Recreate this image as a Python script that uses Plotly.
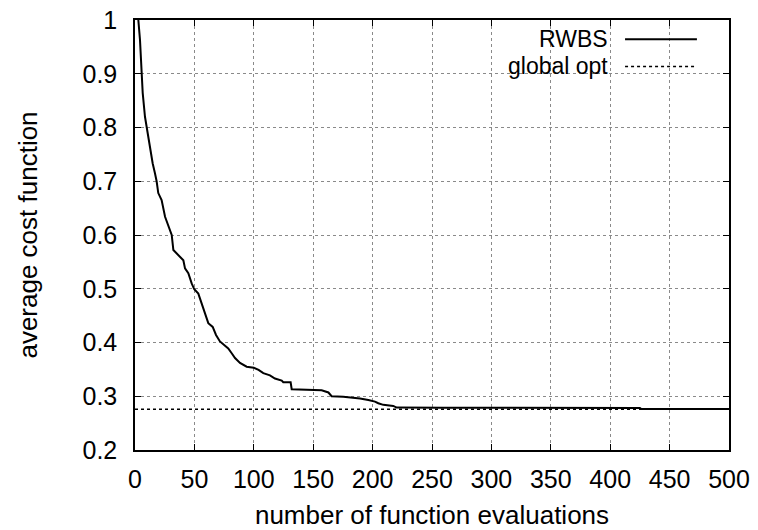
import plotly.graph_objects as go

# RWBS average cost curve
rwbs_x = [0, 1, 2, 2.8, 4.2, 5.6, 6.5, 8.4, 9.8, 12.6, 14.9, 16.8, 18.2, 19.6, 22.4,
          25.3, 29.5, 30.9, 32.3, 36.5, 40.7, 42.1, 44.9, 47.7, 49.9, 53.3, 56.1,
          58.9, 61.7, 65.4, 68.2, 71.5, 75.8, 78.5, 81.4, 84.2, 88.4, 94, 100,
          104, 108, 113.6, 117.8, 123.5, 124.8, 131, 131.9, 152.9, 157.1, 162.8,
          165.5, 175.3, 181, 189.4, 196.4, 202, 204.8, 209, 217.4, 220.2, 260,
          300, 350, 400, 425, 426, 500]
rwbs_y = [1.12, 1.07, 1.03, 1.0, 0.963, 0.9, 0.864, 0.82, 0.8, 0.758, 0.733, 0.715,
          0.7, 0.678, 0.665, 0.634, 0.609, 0.6, 0.572, 0.563, 0.553, 0.538, 0.529,
          0.51, 0.499, 0.491, 0.473, 0.454, 0.436, 0.429, 0.414, 0.402, 0.395,
          0.389, 0.38, 0.371, 0.362, 0.355, 0.353, 0.349, 0.343, 0.339, 0.333,
          0.329, 0.326, 0.326, 0.313, 0.312, 0.311, 0.307, 0.3, 0.299, 0.298,
          0.296, 0.293, 0.29, 0.287, 0.284, 0.282, 0.279, 0.2788, 0.2785, 0.2783,
          0.278, 0.278, 0.2765, 0.2765]

global_opt_x = [0, 500]
global_opt_y = [0.2757, 0.2757]

x_ticks = [0, 50, 100, 150, 200, 250, 300, 350, 400, 450, 500]
y_ticks = [0.2, 0.3, 0.4, 0.5, 0.6, 0.7, 0.8, 0.9, 1.0]
y_tick_text = ["0.2", "0.3", "0.4", "0.5", "0.6", "0.7", "0.8", "0.9", "1"]

FONT = "Liberation Sans, Arial, Helvetica, sans-serif"
FS = 25
FT = 26
FL = 23

fig = go.Figure()
fig.add_trace(go.Scatter(x=global_opt_x, y=global_opt_y, mode="lines", name="global opt",
                         line=dict(color="black", width=1.6, dash="dot"), showlegend=False))
fig.add_trace(go.Scatter(x=rwbs_x, y=rwbs_y, mode="lines", name="RWBS",
                         line=dict(color="black", width=2), showlegend=False))

axis_common = dict(showline=True, linecolor="black", linewidth=1.5, mirror="ticks",
                   ticks="inside", ticklen=6, tickcolor="black", tickwidth=1,
                   showgrid=True, gridcolor="#8a8a8a", griddash="dot", gridwidth=1,
                   zeroline=False, automargin=False,
                   tickfont=dict(family=FONT, size=FS, color="black"))

fig.update_xaxes(range=[0, 500], tickvals=x_ticks, ticklabelstandoff=6,
                 title=dict(text="number of function evaluations",
                            font=dict(family=FONT, size=FT, color="black"), standoff=14),
                 **axis_common)
fig.update_yaxes(range=[0.2, 1.0], tickvals=y_ticks, ticktext=y_tick_text,
                 ticklabelstandoff=11,
                 title=dict(text="average cost function",
                            font=dict(family=FONT, size=FT, color="black"), standoff=37),
                 **axis_common)

# manual legend (text right, sample line to the right as in reference)
legend_items = [("RWBS", "solid", 0.955), ("global opt", "dot", 0.892)]
for label, dash, yy in legend_items:
    fig.add_annotation(x=0.8, y=yy, xref="paper", yref="paper", text=label,
                       showarrow=False, xanchor="right", yanchor="middle",
                       font=dict(family=FONT, size=FL, color="black"))
    fig.add_shape(type="line", xref="paper", yref="paper", x0=0.825, x1=0.946,
                  y0=yy, y1=yy, line=dict(color="black", width=2 if dash == "solid" else 1.6,
                                            dash=dash))

fig.update_layout(width=758, height=530, margin=dict(l=135, r=29, t=20, b=80),
                  plot_bgcolor="white", paper_bgcolor="white", showlegend=False)

fig.write_html("out.html")
